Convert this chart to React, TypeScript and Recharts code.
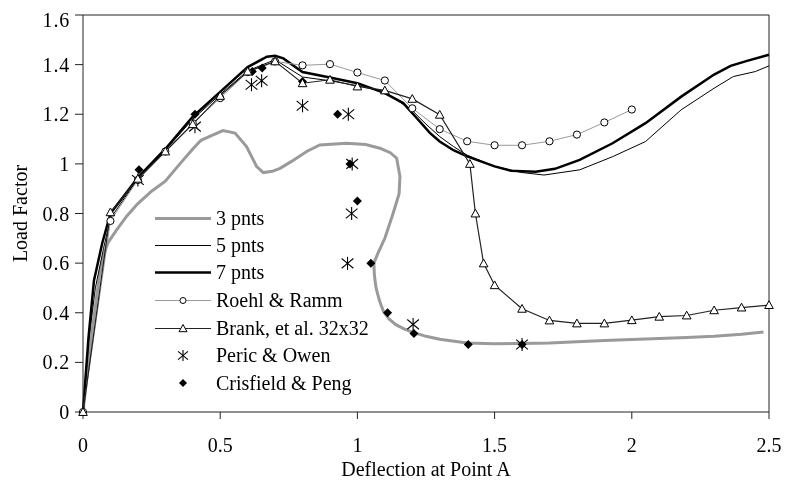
import React from 'react';
import { ComposedChart, Line, Scatter, XAxis, YAxis, ReferenceLine, Legend } from 'recharts';

const FONT = '"Liberation Serif", "Times New Roman", Times, serif';

const xTicks = [0, 0.5, 1, 1.5, 2, 2.5];
const yTicks = [0, 0.2, 0.4, 0.6, 0.8, 1, 1.2, 1.4, 1.6];

const seriesNames = ['3 pnts', '5 pnts', '7 pnts', 'Roehl & Ramm', 'Brank, et al. 32x32', 'Peric & Owen', 'Crisfield & Peng'];

const pnts3X = [0, 0.03, 0.06, 0.075, 0.09, 0.12, 0.16, 0.2, 0.25, 0.3, 0.353, 0.4, 0.43, 0.47, 0.51, 0.554, 0.596, 0.633, 0.657, 0.69, 0.718, 0.76, 0.815, 0.863, 0.96, 1.03, 1.082, 1.12, 1.143, 1.155, 1.152, 1.13, 1.1, 1.075, 1.06, 1.062, 1.068, 1.08, 1.095, 1.115, 1.14, 1.17, 1.2, 1.25, 1.3, 1.4, 1.5, 1.6, 1.7, 1.8, 1.9, 2.0, 2.1, 2.2, 2.3, 2.4, 2.48];
const pnts3Y = [0, 0.3, 0.55, 0.63, 0.68, 0.73, 0.79, 0.84, 0.89, 0.93, 1.0, 1.06, 1.095, 1.115, 1.134, 1.124, 1.07, 0.989, 0.965, 0.97, 0.982, 1.01, 1.05, 1.076, 1.083, 1.078, 1.063, 1.045, 1.023, 0.95, 0.88, 0.8, 0.7, 0.64, 0.6, 0.55, 0.5, 0.45, 0.405, 0.375, 0.352, 0.335, 0.322, 0.305, 0.293, 0.278, 0.275, 0.276, 0.278, 0.283, 0.288, 0.292, 0.296, 0.3, 0.305, 0.313, 0.322];

const pnts5X = [0, 0.02, 0.045, 0.075, 0.1, 0.2, 0.3, 0.4, 0.5, 0.6, 0.7, 0.8, 0.9, 1.0, 1.1, 1.2, 1.25, 1.3, 1.35, 1.4, 1.5, 1.6, 1.68, 1.81, 1.93, 2.05, 2.18, 2.3, 2.37, 2.45, 2.5];
const pnts5Y = [0, 0.28, 0.5, 0.66, 0.78, 0.94, 1.055, 1.18, 1.28, 1.375, 1.42, 1.35, 1.335, 1.315, 1.29, 1.215, 1.16, 1.11, 1.07, 1.035, 0.99, 0.965, 0.955, 0.976, 1.029, 1.09, 1.218, 1.305, 1.352, 1.372, 1.395];

const pnts7X = [0, 0.02, 0.04, 0.07, 0.1, 0.2, 0.3, 0.4, 0.5, 0.6, 0.67, 0.7, 0.73, 0.8, 0.9, 1.0, 1.05, 1.1, 1.167, 1.22, 1.264, 1.3, 1.35, 1.4, 1.5, 1.56, 1.65, 1.72, 1.81, 1.93, 2.05, 2.18, 2.3, 2.36, 2.42, 2.5];
const pnts7Y = [0, 0.3, 0.53, 0.68, 0.8, 0.945, 1.06, 1.19, 1.29, 1.39, 1.432, 1.436, 1.425, 1.37, 1.348, 1.325, 1.305, 1.285, 1.245, 1.18, 1.125, 1.09, 1.055, 1.03, 0.99, 0.972, 0.968, 0.98, 1.016, 1.083, 1.164, 1.271, 1.36, 1.395, 1.415, 1.44];

const roehlX = [0, 0.1, 0.2, 0.3, 0.4, 0.5, 0.6, 0.7, 0.8, 0.9, 1.0, 1.1, 1.2, 1.3, 1.4, 1.5, 1.6, 1.7, 1.8, 1.9, 2.0];
const roehlY = [0, 0.77, 0.935, 1.05, 1.164, 1.265, 1.37, 1.413, 1.397, 1.402, 1.368, 1.336, 1.224, 1.14, 1.091, 1.075, 1.075, 1.091, 1.118, 1.167, 1.219];

const brankX = [0, 0.1, 0.2, 0.3, 0.4, 0.5, 0.6, 0.7, 0.8, 0.9, 1.0, 1.1, 1.2, 1.3, 1.41, 1.43, 1.46, 1.5, 1.6, 1.7, 1.8, 1.9, 2.0, 2.1, 2.2, 2.3, 2.4, 2.5];
const brankY = [0, 0.805, 0.94, 1.05, 1.16, 1.274, 1.372, 1.413, 1.325, 1.339, 1.312, 1.296, 1.262, 1.198, 1.0, 0.8, 0.599, 0.511, 0.416, 0.369, 0.357, 0.357, 0.37, 0.384, 0.389, 0.41, 0.421, 0.431];

const pericX = [0.2, 0.408, 0.614, 0.651, 0.8, 0.967, 0.981, 0.979, 0.964, 1.203, 1.6];
const pericY = [0.935, 1.15, 1.319, 1.335, 1.234, 1.2, 1.0, 0.8, 0.599, 0.353, 0.272];

const crisX = [0.204, 0.408, 0.617, 0.653, 0.8, 0.928, 0.973, 1.0, 1.049, 1.11, 1.206, 1.404, 1.6];
const crisY = [0.976, 1.2, 1.372, 1.386, 1.332, 1.2, 1.0, 0.85, 0.599, 0.4, 0.316, 0.272, 0.272];

const zip = (xs: number[], ys: number[]) => xs.map((x, i) => ({ x, y: ys[i] }));

const GRAY = '#9a9a9a';
const FS = 20;

const Circle = (cx: number, cy: number, r: number, key?: any) => (
  <circle key={key} cx={cx} cy={cy} r={r} fill="#fff" stroke="#000" strokeWidth={1} />
);
const Triangle = (cx: number, cy: number, s: number, key?: any) => (
  <path key={key} d={`M${cx},${cy - s} L${cx + s},${cy + s * 0.8} L${cx - s},${cy + s * 0.8} Z`} fill="#fff" stroke="#000" strokeWidth={1} />
);
const Asterisk = (cx: number, cy: number, s: number, key?: any) => (
  <g key={key} stroke="#000" strokeWidth={1.1}>
    <line x1={cx} y1={cy - s} x2={cx} y2={cy + s} />
    <line x1={cx - s * 0.9} y1={cy - s * 0.75} x2={cx + s * 0.9} y2={cy + s * 0.75} />
    <line x1={cx - s * 0.9} y1={cy + s * 0.75} x2={cx + s * 0.9} y2={cy - s * 0.75} />
  </g>
);
const Diamond = (cx: number, cy: number, s: number, key?: any) => (
  <path key={key} d={`M${cx},${cy - s} L${cx + s},${cy} L${cx},${cy + s} L${cx - s},${cy} Z`} fill="#000" />
);

const LegendBox = () => {
  const rowY = [14.5, 41.5, 68.5, 96.5, 124.5, 151.5, 179];
  const x1 = 5, x2 = 61, xm = 33, xt = 66;
  const textProps = { fontFamily: FONT, fontSize: FS, fill: '#000' };
  return (
    <svg width={270} height={200}>
      <line x1={x1} y1={rowY[0]} x2={x2} y2={rowY[0]} stroke={GRAY} strokeWidth={3} />
      <line x1={x1} y1={rowY[1]} x2={x2} y2={rowY[1]} stroke="#000" strokeWidth={1} />
      <line x1={x1} y1={rowY[2]} x2={x2} y2={rowY[2]} stroke="#000" strokeWidth={2.5} />
      <line x1={x1} y1={rowY[3]} x2={x2} y2={rowY[3]} stroke={GRAY} strokeWidth={1} />
      {Circle(xm, rowY[3], 3)}
      <line x1={x1} y1={rowY[4]} x2={x2} y2={rowY[4]} stroke="#222" strokeWidth={1.2} />
      {Triangle(xm, rowY[4], 4)}
      {Asterisk(xm, rowY[5], 5.5)}
      {Diamond(xm, rowY[6], 4)}
      {seriesNames.map((n, i) => (
        <text key={n} x={xt} y={rowY[i] + 6.5} {...textProps}>{n}</text>
      ))}
    </svg>
  );
};

export default function App() {
  return (
    <div style={{ position: 'fixed', left: 8, top: 8, width: 779, height: 476 }}>
      <ComposedChart
        width={779}
        height={476}
        margin={{ top: 7, right: 18, left: 0, bottom: 12 }}
        style={{ fontFamily: FONT, overflow: 'visible' }}
      >
        <XAxis
          type="number"
          dataKey="x"
          domain={[0, 2.5]}
          ticks={xTicks}
          height={60}
          tickSize={7}
          tickMargin={19}
          stroke="#222"
          tick={{ fill: '#000', fontSize: FS, fontFamily: FONT }}
          label={{
            content: (p: any) => {
              const vb = p.viewBox || { x: 75, y: 404, width: 686 };
              return (
                <text x={vb.x + vb.width / 2} y={468} textAnchor="middle" fontFamily={FONT} fontSize={FS} fill="#000">
                  Deflection at Point A
                </text>
              );
            },
          }}
        />
        <YAxis
          type="number"
          domain={[0, 1.6]}
          ticks={yTicks}
          width={75}
          tickSize={8}
          tickMargin={5}
          stroke="#222"
          tick={{ fill: '#000', fontSize: FS, fontFamily: FONT, letterSpacing: 0.8 }}
          label={{
            content: (p: any) => {
              const vb = p.viewBox || { x: 0, y: 7, height: 397 };
              const cx = 19;
              const cy = vb.y + vb.height / 2;
              return (
                <text x={cx} y={cy} transform={`rotate(-90 ${cx} ${cy})`} textAnchor="middle" fontFamily={FONT} fontSize={FS} fill="#000">
                  Load Factor
                </text>
              );
            },
          }}
        />
        <ReferenceLine y={1.6} stroke="#222" strokeWidth={1} />
        <ReferenceLine x={2.5} stroke="#222" strokeWidth={1} />
        <Line data={zip(pnts3X, pnts3Y)} dataKey="y" type="linear" stroke={GRAY} strokeWidth={3} dot={false} isAnimationActive={false} name={seriesNames[0]} />
        <Line data={zip(pnts5X, pnts5Y)} dataKey="y" type="linear" stroke="#000" strokeWidth={1} dot={false} isAnimationActive={false} name={seriesNames[1]} />
        <Line data={zip(pnts7X, pnts7Y)} dataKey="y" type="linear" stroke="#000" strokeWidth={2.5} dot={false} isAnimationActive={false} name={seriesNames[2]} />
        <Line
          data={zip(roehlX, roehlY)}
          dataKey="y"
          type="linear"
          stroke={GRAY}
          strokeWidth={1}
          dot={(p: any) => Circle(p.cx, p.cy, 3.6, `r${p.index}`)}
          isAnimationActive={false}
          name={seriesNames[3]}
        />
        <Line
          data={zip(brankX, brankY)}
          dataKey="y"
          type="linear"
          stroke="#222"
          strokeWidth={1.2}
          dot={(p: any) => Triangle(p.cx, p.cy, 4.3, `b${p.index}`)}
          isAnimationActive={false}
          name={seriesNames[4]}
        />
        <Scatter
          data={zip(pericX, pericY)}
          dataKey="y"
          isAnimationActive={false}
          name={seriesNames[5]}
          shape={(p: any) => Asterisk(p.cx, p.cy, 6.5)}
        />
        <Scatter
          data={zip(crisX, crisY)}
          dataKey="y"
          isAnimationActive={false}
          name={seriesNames[6]}
          shape={(p: any) => Diamond(p.cx, p.cy, 4.5)}
        />
        <Legend
          layout="vertical"
          align="center"
          verticalAlign="middle"
          wrapperStyle={{ left: 142, top: 196, width: 270, height: 200 }}
          content={() => <LegendBox />}
        />
      </ComposedChart>
    </div>
  );
}
